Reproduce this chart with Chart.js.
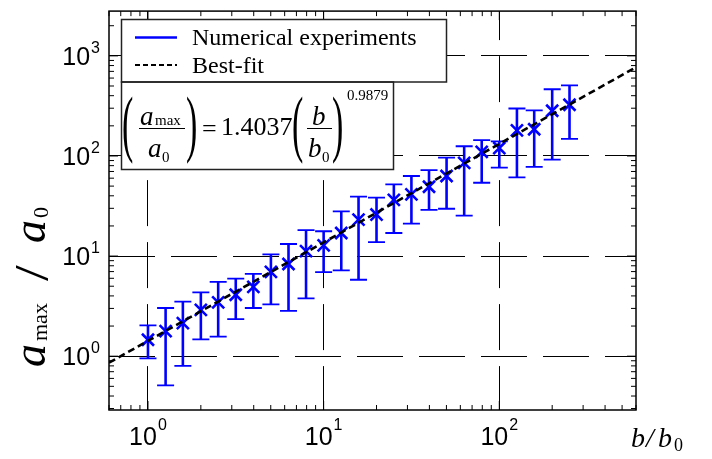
<!DOCTYPE html>
<html>
  <head>
    <title>a_max / a_0 vs b / b_0</title>
    <script src="https://cdn.jsdelivr.net/npm/chart.js"></script>
    <style>
      body {
        margin: 0;
        background: #fff;
      }
      canvas {
        display: block;
      }
    </style>
  </head>
  <body>
    <canvas id="graph" width="712" height="459"></canvas>
    <script>
      // b/b0 values (10 per decade)
      const bRatio = [
        1, 1.26, 1.58, 2, 2.51, 3.16, 3.98, 5.01, 6.31, 7.94, 10, 12.6, 15.8,
        20, 25.1, 31.6, 39.8, 50.1, 63.1, 79.4, 100, 126, 158, 200, 251,
      ];
      // mean a_max/a0 from the numerical experiments
      const aMean = [
        1.46, 1.78, 2.14, 2.9, 3.45, 4.11, 4.93, 6.95, 8.33, 11.2, 12.8, 17.0,
        23.1, 26.0, 36.4, 41.4, 49.3, 63.1, 85.3, 110, 120, 180, 185, 283, 325,
      ];
      // error bar ends
      const aUpper = [
        2.03, 3.03, 3.5, 4.33, 5.53, 5.96, 6.63, 10.4, 13.2, 18.2, 17.7, 27.9,
        39.3, 38.4, 52, 63.1, 72.2, 96.2, 125, 144, 140, 298, 285, 464, 508,
      ];
      const aLower = [
        0.95, 0.51, 0.8, 1.47, 1.57, 2.34, 3.03, 3.3, 2.83, 3.78, 6.9, 7.2,
        5.8, 13.8, 17.0, 21.1, 29, 29.7, 25.3, 54, 76.6, 61, 77.8, 92, 148,
      ];
      // best-fit line ends
      const fitX = [0.6, 600];
      const fitY = [0.86, 770];

      const xDecades = [1, 10, 100];
      const yDecades = [1, 10, 100, 1000];
      const xExp = ["0", "1", "2"];
      const yExp = ["0", "1", "2", "3"];

      const BLUE = "#0000ff";
      const SERIF = '"Liberation Serif", "Times New Roman", serif';
      const SANS = '"Liberation Sans", Arial, sans-serif';

      function decadeTicks(list) {
        return function (scale) {
          scale.ticks = list.map((v) => ({ value: v }));
        };
      }

      // error bars under the markers
      const errorBars = {
        id: "errorBars",
        beforeDatasetsDraw(chart) {
          const ctx = chart.ctx;
          const xs = chart.scales.x;
          const ys = chart.scales.y;
          ctx.save();
          ctx.strokeStyle = BLUE;
          for (let i = 0; i < bRatio.length; i++) {
            const x = xs.getPixelForValue(bRatio[i]);
            const yt = ys.getPixelForValue(aUpper[i]);
            const yb = ys.getPixelForValue(aLower[i]);
            ctx.lineWidth = 2.6;
            ctx.beginPath();
            ctx.moveTo(x, yt);
            ctx.lineTo(x, yb);
            ctx.stroke();
            ctx.lineWidth = 1.8;
            ctx.beginPath();
            ctx.moveTo(x - 8.5, yt);
            ctx.lineTo(x + 8.5, yt);
            ctx.moveTo(x - 8.5, yb);
            ctx.lineTo(x + 8.5, yb);
            ctx.stroke();
          }
          ctx.restore();
        },
      };

      function drawParen(ctx, ch, x, yMid) {
        ctx.save();
        ctx.translate(x, yMid);
        ctx.scale(1, 2.2);
        ctx.font = "34px " + SERIF;
        ctx.textBaseline = "middle";
        ctx.fillText(ch, 0, 0);
        ctx.restore();
      }

      const decorations = {
        id: "decorations",
        afterDraw(chart) {
          const ctx = chart.ctx;
          const xs = chart.scales.x;
          const ys = chart.scales.y;
          const a = chart.chartArea;
          ctx.save();
          ctx.strokeStyle = "#000";
          ctx.fillStyle = "#000";

          // inward ticks on all four sides
          ctx.lineWidth = 1;
          ctx.beginPath();
          for (let e = -1; e <= 3; e++) {
            for (let m = 1; m <= 9; m++) {
              const v = m * Math.pow(10, e);
              const len = m === 1 ? 9 : 5;
              if (v >= xs.min && v <= xs.max) {
                const x = xs.getPixelForValue(v);
                ctx.moveTo(x, a.bottom);
                ctx.lineTo(x, a.bottom - len);
                ctx.moveTo(x, a.top);
                ctx.lineTo(x, a.top + len);
              }
              if (v >= ys.min && v <= ys.max) {
                const y = ys.getPixelForValue(v);
                ctx.moveTo(a.left, y);
                ctx.lineTo(a.left + len, y);
                ctx.moveTo(a.right, y);
                ctx.lineTo(a.right - len, y);
              }
            }
          }
          ctx.stroke();

          // frame
          ctx.lineWidth = 1.5;
          ctx.strokeRect(a.left, a.top, a.right - a.left, a.bottom - a.top);

          // tick labels 10^n
          ctx.textBaseline = "alphabetic";
          ctx.textAlign = "left";
          xDecades.forEach((v, i) => {
            const x = xs.getPixelForValue(v);
            ctx.font = "25px " + SANS;
            const w1 = ctx.measureText("10").width;
            ctx.font = "16px " + SANS;
            const w2 = ctx.measureText(xExp[i]).width;
            const x0 = x - (w1 + w2 + 1) / 2;
            ctx.font = "25px " + SANS;
            ctx.fillText("10", x0, 445);
            ctx.font = "16px " + SANS;
            ctx.fillText(xExp[i], x0 + w1 + 1, 430);
          });
          yDecades.forEach((v, i) => {
            const y = ys.getPixelForValue(v);
            ctx.font = "16px " + SANS;
            const w2 = ctx.measureText(yExp[i]).width;
            ctx.fillText(yExp[i], 100 - w2, y - 3);
            ctx.font = "25px " + SANS;
            const w1 = ctx.measureText("10").width;
            ctx.fillText("10", 100 - w2 - 1 - w1, y + 9);
          });

          // x axis title b/b0
          ctx.font = "italic 28px " + SERIF;
          ctx.fillText("b", 631, 447);
          ctx.fillText("/", 646, 447);
          ctx.fillText("b", 658, 447);
          ctx.font = "18px " + SERIF;
          ctx.fillText("0", 674, 451);

          // y axis title a_max / a_0 (rotated)
          ctx.save();
          ctx.translate(45, 367);
          ctx.rotate(-Math.PI / 2);
          ctx.font = "italic 46px " + SERIF;
          ctx.fillText("a", 0, 0);
          ctx.font = "22px " + SERIF;
          ctx.fillText("max", 26, 2);
          ctx.save();
          ctx.translate(86, 3);
          ctx.scale(1.35, 1.15);
          ctx.font = "42px " + SERIF;
          ctx.fillText("/", 0, 0);
          ctx.restore();
          ctx.font = "italic 46px " + SERIF;
          ctx.fillText("a", 124, 0);
          ctx.font = "22px " + SERIF;
          ctx.fillText("0", 149, 3);
          ctx.restore();

          // legend box
          ctx.fillStyle = "#fff";
          ctx.fillRect(121.5, 19.5, 325, 62.5);
          ctx.fillRect(121.5, 82, 272, 87.5);
          ctx.strokeStyle = "#222";
          ctx.lineWidth = 1.5;
          ctx.strokeRect(121.5, 19.5, 325, 62.5);
          ctx.strokeRect(121.5, 82, 272, 87.5);

          ctx.fillStyle = "#000";
          ctx.lineWidth = 2.5;
          ctx.strokeStyle = BLUE;
          ctx.beginPath();
          ctx.moveTo(135, 37.5);
          ctx.lineTo(177, 37.5);
          ctx.stroke();
          ctx.strokeStyle = "#000";
          ctx.lineWidth = 2;
          ctx.setLineDash([5, 3]);
          ctx.beginPath();
          ctx.moveTo(135, 65);
          ctx.lineTo(177, 65);
          ctx.stroke();
          ctx.setLineDash([]);
          ctx.font = "24px " + SERIF;
          ctx.fillText("Numerical experiments", 192, 45);
          ctx.fillText("Best-fit", 192, 73);

          // equation
          drawParen(ctx, "(", 122, 128);
          drawParen(ctx, ")", 186, 128);
          drawParen(ctx, "(", 292, 128);
          drawParen(ctx, ")", 332, 128);
          ctx.lineWidth = 1;
          ctx.beginPath();
          ctx.moveTo(139, 128.5);
          ctx.lineTo(185, 128.5);
          ctx.moveTo(307, 128.5);
          ctx.lineTo(332, 128.5);
          ctx.stroke();
          ctx.font = "italic 27px " + SERIF;
          ctx.fillText("a", 140, 125);
          ctx.fillText("a", 148, 157);
          ctx.fillText("b", 312, 125);
          ctx.fillText("b", 308, 157);
          ctx.font = "15px " + SERIF;
          ctx.fillText("max", 155, 125);
          ctx.fillText("0", 162, 162);
          ctx.fillText("0", 322, 162);
          ctx.fillText("0.9879", 347, 100);
          ctx.font = "26px " + SERIF;
          ctx.fillText("=", 202, 137);
          ctx.fillText("1.4037", 221, 135);

          ctx.restore();
        },
      };

      const ctx = document.getElementById("graph").getContext("2d");
      const graph = new Chart(ctx, {
        type: "scatter",
        data: {
          datasets: [
            {
              label: "Best-fit",
              data: fitX.map((x, i) => ({ x: x, y: fitY[i] })),
              showLine: true,
              borderColor: "#000",
              borderWidth: 2.6,
              borderDash: [7, 4],
              pointRadius: 0,
            },
            {
              label: "Numerical experiments",
              data: bRatio.map((x, i) => ({ x: x, y: aMean[i] })),
              showLine: false,
              pointStyle: "crossRot",
              pointRadius: 8.5,
              borderColor: BLUE,
              backgroundColor: BLUE,
              borderWidth: 2.6,
            },
          ],
        },
        options: {
          responsive: false,
          animation: false,
          layout: { padding: { left: 109, right: 76, top: 9, bottom: 49 } },
          plugins: {
            legend: { display: false },
            tooltip: { enabled: false },
          },
          scales: {
            x: {
              type: "logarithmic",
              min: 0.6,
              max: 600,
              afterBuildTicks: decadeTicks(xDecades),
              afterFit: (s) => {
                s.height = 0;
              },
              ticks: { display: false },
              grid: { color: "#000", lineWidth: 1, drawTicks: false },
              border: { display: false, dash: [46, 16], dashOffset: 17 },
            },
            y: {
              type: "logarithmic",
              min: 0.29,
              max: 2800,
              afterBuildTicks: decadeTicks(yDecades),
              afterFit: (s) => {
                s.width = 0;
              },
              ticks: { display: false },
              grid: { color: "#000", lineWidth: 1, drawTicks: false },
              border: { display: false, dash: [46, 16], dashOffset: 0 },
            },
          },
        },
        plugins: [errorBars, decorations],
      });
    </script>
  </body>
</html>
